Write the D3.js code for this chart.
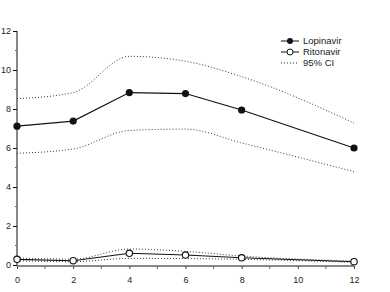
<!DOCTYPE html>
<html>
<head>
<meta charset="utf-8">
<script src="https://cdn.jsdelivr.net/npm/d3@7"></script>
<style>
  body { margin: 0; background: #fff; }
  svg { display: block; font-family: "Liberation Sans", Arial, sans-serif; }
  .tick text { font-size: 9px; fill: #222; }
</style>
</head>
<body>
<svg id="chart" width="390" height="292"></svg>
<script>
const hours = [0, 2, 4, 6, 8, 12];
const lopinavir = [7.12, 7.38, 8.84, 8.79, 7.95, 6.0];
const lopinavirUpper = [8.53, 8.84, 10.7, 10.45, 9.66, 7.28];
const lopinavirLower = [5.73, 5.95, 6.9, 6.97, 6.26, 4.79];
const ritonavir = [0.29, 0.22, 0.6, 0.51, 0.37, 0.17];
const ritonavirUpper = [0.36, 0.3, 0.82, 0.7, 0.46, 0.2];
const ritonavirLower = [0.22, 0.17, 0.34, 0.33, 0.29, 0.14];
const xTicks = [0, 2, 4, 6, 8, 10, 12];
const yTicks = [0, 2, 4, 6, 8, 10, 12];
const legendItems = ["Lopinavir", "Ritonavir", "95% CI"];

const svg = d3.select("#chart");
const x = d3.scaleLinear().domain([0, 12]).range([17, 354]);
const y = d3.scaleLinear().domain([0, 12]).range([265, 31]);

// y axis with minor ticks
const yAxis = svg.append("g").attr("transform", "translate(17,0)");
yAxis.call(d3.axisLeft(y).tickValues(yTicks).tickSize(4).tickPadding(2).tickFormat(d3.format("d")));
yAxis.select(".domain").attr("stroke", "#111").attr("d", `M0,${y(12)}V${y(0)}`);
yAxis.selectAll(".tick line").attr("stroke", "#111");
yAxis.append("g").selectAll("line")
  .data(d3.range(1, 12, 2))
  .join("line")
  .attr("x1", -2).attr("x2", 0)
  .attr("y1", (d) => y(d)).attr("y2", (d) => y(d))
  .attr("stroke", "#666");

// x axis with minor ticks
const xAxis = svg.append("g").attr("transform", "translate(0,266)");
xAxis.call(d3.axisBottom(x).tickValues(xTicks).tickSize(3).tickPadding(8).tickFormat(d3.format("d")));
xAxis.select(".domain").attr("stroke", "#888").attr("stroke-width", 2).attr("d", `M${x(0)},0H${x(12)}`);
xAxis.selectAll(".tick line").attr("stroke", "#444");
xAxis.selectAll(".tick text").attr("dy", "0.71em");
xAxis.append("g").selectAll("line")
  .data(d3.range(1, 12, 2))
  .join("line")
  .attr("x1", (d) => x(d)).attr("x2", (d) => x(d))
  .attr("y1", 0).attr("y2", 3)
  .attr("stroke", "#666");

const solid = d3.line().x((d, i) => x(hours[i])).y((d) => y(d));
const smooth = d3.line().x((d, i) => x(hours[i])).y((d) => y(d)).curve(d3.curveMonotoneX);

[lopinavirUpper, lopinavirLower, ritonavirUpper, ritonavirLower].forEach((series) => {
  svg.append("path")
    .attr("d", smooth(series))
    .attr("fill", "none")
    .attr("stroke", "#222")
    .attr("stroke-width", 0.9)
    .attr("stroke-dasharray", "1,2");
});

[lopinavir, ritonavir].forEach((series) => {
  svg.append("path")
    .attr("d", solid(series))
    .attr("fill", "none")
    .attr("stroke", "#111")
    .attr("stroke-width", 1.1);
});

svg.append("g").selectAll("circle")
  .data(lopinavir)
  .join("circle")
  .attr("cx", (d, i) => x(hours[i]))
  .attr("cy", (d) => y(d))
  .attr("r", 3.6)
  .attr("fill", "#111");

svg.append("g").selectAll("circle")
  .data(ritonavir)
  .join("circle")
  .attr("cx", (d, i) => x(hours[i]))
  .attr("cy", (d) => y(d))
  .attr("r", 3.2)
  .attr("fill", "#fff")
  .attr("stroke", "#111")
  .attr("stroke-width", 1.1);

// legend
const legend = svg.append("g").attr("transform", "translate(281,41)");
legendItems.forEach((label, i) => {
  const row = legend.append("g").attr("transform", `translate(0,${i * 11})`);
  const ln = row.append("line").attr("x1", 0).attr("x2", 18).attr("y1", 0).attr("y2", 0)
    .attr("stroke", "#111");
  if (i === 2) ln.attr("stroke-dasharray", "1,2").attr("stroke-width", 0.9);
  if (i === 0) row.append("circle").attr("cx", 9).attr("cy", 0).attr("r", 3).attr("fill", "#111");
  if (i === 1) row.append("circle").attr("cx", 9).attr("cy", 0).attr("r", 3)
    .attr("fill", "#fff").attr("stroke", "#111");
  row.append("text").attr("x", 22).attr("y", 0).attr("dy", "0.33em")
    .attr("font-size", 9.5).attr("fill", "#222").text(label);
});
</script>
</body>
</html>
